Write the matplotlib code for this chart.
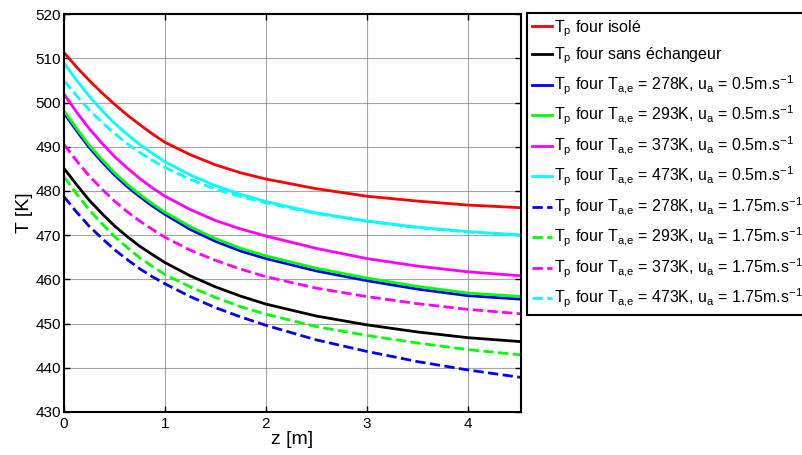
import matplotlib
matplotlib.use("Agg")
import matplotlib.pyplot as plt

plt.rcParams["font.family"] = ["Liberation Sans", "DejaVu Sans"]
plt.rcParams["mathtext.fontset"] = "custom"
plt.rcParams["mathtext.rm"] = "Liberation Sans"
plt.rcParams["mathtext.it"] = "Liberation Sans:italic"

# position along the oven [m]
z = [0, 0.125, 0.25, 0.375, 0.5, 0.625, 0.75, 0.875, 1,
     1.25, 1.5, 1.75, 2, 2.5, 3, 3.5, 4, 4.53]

# wall temperature [K]
t_isole = [511.3, 508.0, 505.0, 502.2, 499.6, 497.2, 495.0, 492.9, 491.0,
           488.2, 485.9, 484.1, 482.7, 480.5, 478.8, 477.7, 476.8, 476.2]
t_sans = [485.1, 481.4, 477.9, 474.9, 472.1, 469.7, 467.5, 465.6, 463.8,
          460.8, 458.3, 456.2, 454.4, 451.7, 449.7, 448.1, 446.8, 445.9]

t_278_05 = [497.6, 493.6, 489.8, 486.6, 483.6, 481.0, 478.7, 476.6, 474.7,
            471.3, 468.6, 466.4, 464.7, 461.9, 459.7, 457.8, 456.3, 455.5]
t_293_05 = [498.1, 494.1, 490.3, 487.1, 484.1, 481.5, 479.2, 477.1, 475.2,
            471.9, 469.2, 467.0, 465.3, 462.5, 460.3, 458.4, 456.9, 456.1]
t_373_05 = [501.9, 497.8, 494.1, 490.8, 487.8, 485.2, 482.8, 480.7, 478.8,
            475.8, 473.3, 471.4, 469.8, 467.0, 464.7, 463.0, 461.7, 460.8]
t_473_05 = [508.9, 505.0, 501.4, 498.2, 495.3, 492.8, 490.5, 488.5, 486.6,
            483.6, 481.2, 479.2, 477.6, 475.0, 473.2, 471.8, 470.8, 470.0]

t_278_175 = [478.7, 475.2, 472.0, 469.3, 466.7, 464.5, 462.4, 460.6, 459.0,
             456.1, 453.6, 451.5, 449.6, 446.3, 443.7, 441.4, 439.5, 437.8]
t_293_175 = [483.2, 479.3, 475.7, 472.6, 469.7, 467.2, 464.9, 462.9, 461.1,
             458.3, 455.9, 453.8, 452.1, 449.3, 447.3, 445.6, 444.1, 442.9]
t_373_175 = [490.5, 486.8, 483.4, 480.4, 477.7, 475.3, 473.2, 471.3, 469.5,
             466.6, 464.3, 462.3, 460.6, 458.0, 456.1, 454.5, 453.2, 452.2]
t_473_175 = [504.9, 501.5, 498.3, 495.5, 493.0, 490.7, 488.7, 486.9, 485.3,
             482.6, 480.4, 478.7, 477.3, 474.9, 473.1, 471.7, 470.7, 470.0]

series = [t_isole, t_sans, t_278_05, t_293_05, t_373_05, t_473_05,
          t_278_175, t_293_175, t_373_175, t_473_175]
colors = ["#ff0000", "#000000", "#0000ff", "#00ff00", "#ff00ff", "#00ffff",
          "#0000ff", "#00ff00", "#ff00ff", "#00ffff"]
styles = ["-", "-", "-", "-", "-", "-", "--", "--", "--", "--"]

temps = ["278", "293", "373", "473"]
speeds = ["0.5", "1.75"]
labels = [r"T$_\mathrm{p}$ four isolé", r"T$_\mathrm{p}$ four sans échangeur"]
for u in speeds:
    for t in temps:
        labels.append(r"T$_\mathrm{p}$ four T$_\mathrm{a{,}e}$ = " + t
                      + r"K, u$_\mathrm{a}$ = " + u + r"m.s$^{-1}$")

fig = plt.figure(figsize=(8.03, 4.55), dpi=100)
ax = fig.add_axes([0.0797, 0.0947, 0.5691, 0.8743])

for y, c, ls, lab in zip(series, colors, styles, labels):
    ax.plot(z, y, color=c, linestyle=ls, linewidth=2, label=lab)

ax.set_xlim(0, 4.53)
ax.set_ylim(430, 520)
ax.set_xticks([0, 1, 2, 3, 4])
ax.set_yticks(range(430, 521, 10))
ax.grid(True, color="0.5", linewidth=0.8, alpha=0.7)
ax.tick_params(direction="in", length=4, width=1, labelsize=11,
               top=True, right=True, pad=2)
ax.tick_params(axis="x", pad=4)
for s in ax.spines.values():
    s.set_linewidth(1.5)

ax.set_xlabel("z [m]", fontsize=14, labelpad=0)
ax.set_ylabel("T [K]", fontsize=14, labelpad=2)

leg = ax.legend(loc="upper left", bbox_to_anchor=(1.0135, 1.002),
                borderaxespad=0, fontsize=11.5, handlelength=1.25,
                handletextpad=0.1, labelspacing=0.45, borderpad=0.3,
                fancybox=False, framealpha=1)
leg.get_frame().set_edgecolor("black")
leg.get_frame().set_linewidth(1.5)

plt.savefig("out.png", dpi=100)
plt.close()
